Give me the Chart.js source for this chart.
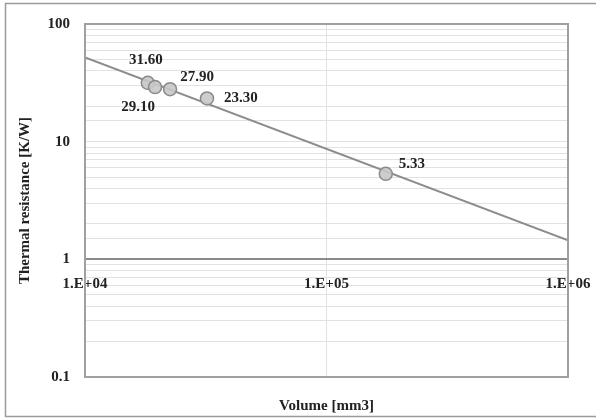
<!DOCTYPE html>
<html>
<head>
<meta charset="utf-8">
<script src="https://cdn.jsdelivr.net/npm/chart.js@4"></script>
<style>
  body { margin: 0; background: #fff; }
  #wrap { width: 596px; height: 419px; }
</style>
</head>
<body>
<div id="wrap"><canvas id="chart"></canvas></div>
<script>
// measured points, volume [mm3] vs thermal resistance [K/W]
let volumes = [18200, 19500, 22500, 32000, 176000];
let resistances = [31.60, 29.10, 27.90, 23.30, 5.33];
let pointLabels = ["31.60", "29.10", "27.90", "23.30", "5.33"];

// power-law trendline, read at the two ends of the x axis
let trendVolumes = [10000, 1000000];
let trendResistances = [52, 1.45];

let xTicks = [10000, 100000, 1000000];

// where each value label sits relative to its marker
let labelOffsets = [[-2, -23], [-17, 20], [27, -12], [34, 0], [26, -10]];

const serif = "'Liberation Serif', 'Times New Roman', serif";

const frame = {
    id: 'frame',
    beforeDraw(chart) {
        let ctx = chart.ctx;
        ctx.save();
        ctx.strokeStyle = '#9a9a9a';
        ctx.lineWidth = 1.5;
        ctx.strokeRect(5.5, 3.5, 640, 413);
        ctx.restore();
    },
    afterDraw(chart) {
        let ctx = chart.ctx;
        let a = chart.chartArea;
        ctx.save();
        ctx.strokeStyle = '#a0a0a0';
        ctx.lineWidth = 2;
        ctx.strokeRect(a.left, a.top, a.right - a.left, a.bottom - a.top);
        ctx.fillStyle = '#222';
        ctx.font = "bold 15px " + serif;
        ctx.textAlign = 'center';
        ctx.textBaseline = 'middle';
        ctx.fillText("Volume [mm3]", (a.left + a.right) / 2, 406);
        ctx.restore();
    }
};

const valueLabels = {
    id: 'valueLabels',
    afterDatasetsDraw(chart) {
        let ctx = chart.ctx;
        let meta = chart.getDatasetMeta(0);
        ctx.save();
        ctx.fillStyle = '#222';
        ctx.font = "bold 15px " + serif;
        ctx.textAlign = 'center';
        ctx.textBaseline = 'middle';
        meta.data.forEach((pt, i) => {
            ctx.fillText(pointLabels[i], pt.x + labelOffsets[i][0], pt.y + labelOffsets[i][1]);
        });
        ctx.restore();
    }
};

function isDecade(v) {
    let l = Math.log10(v);
    return Math.abs(l - Math.round(l)) < 1e-9;
}

new Chart(document.getElementById("chart"), {
    type: 'scatter',
    data: {
        datasets: [
            {
                label: "Measured",
                data: volumes.map((v, i) => ({x: v, y: resistances[i]})),
                pointRadius: 6.5,
                pointBackgroundColor: 'rgba(200,200,200,0.9)',
                pointBorderColor: '#8a8a8a',
                pointBorderWidth: 1.5,
                order: 0
            },
            {
                label: "Trend",
                data: trendVolumes.map((v, i) => ({x: v, y: trendResistances[i]})),
                showLine: true,
                borderColor: '#8c8c8c',
                borderWidth: 2,
                pointRadius: 0,
                order: 1
            }
        ]
    },
    options: {
        responsive: true,
        maintainAspectRatio: false,
        animation: false,
        layout: { padding: { left: 0, top: 19, right: 28, bottom: 42 } },
        plugins: {
            legend: { display: false },
            tooltip: { enabled: false }
        },
        scales: {
            x: {
                type: 'logarithmic',
                min: 10000,
                max: 1000000,
                position: { y: 1 },
                afterBuildTicks: scale => { scale.ticks = xTicks.map(v => ({value: v})); },
                afterFit: scale => { scale.paddingLeft = 0; scale.paddingRight = 0; },
                grid: { color: '#e2e2e2', drawTicks: false, lineWidth: 1 },
                border: { color: '#8a8a8a', width: 2 },
                ticks: {
                    padding: 16,
                    color: '#222',
                    font: { family: serif, size: 15, weight: 'bold' },
                    maxRotation: 0,
                    autoSkip: false,
                    callback: v => '1.E+' + String(Math.round(Math.log10(v))).padStart(2, '0')
                }
            },
            y: {
                type: 'logarithmic',
                min: 0.1,
                max: 100,
                afterFit: scale => { scale.width = 85; },
                grid: { color: '#e2e2e2', drawTicks: false, lineWidth: 1 },
                border: { color: '#a0a0a0', width: 2 },
                ticks: {
                    padding: 15,
                    color: '#222',
                    font: { family: serif, size: 15, weight: 'bold' },
                    autoSkip: false,
                    callback: v => isDecade(v) ? String(Number(v.toPrecision(3))) : ''
                },
                title: {
                    display: true,
                    text: "Thermal resistance [K/W]",
                    color: '#222',
                    font: { family: serif, size: 15, weight: 'bold' },
                    padding: { top: 16, bottom: 0 }
                }
            }
        }
    },
    plugins: [frame, valueLabels]
});
</script>
</body>
</html>
